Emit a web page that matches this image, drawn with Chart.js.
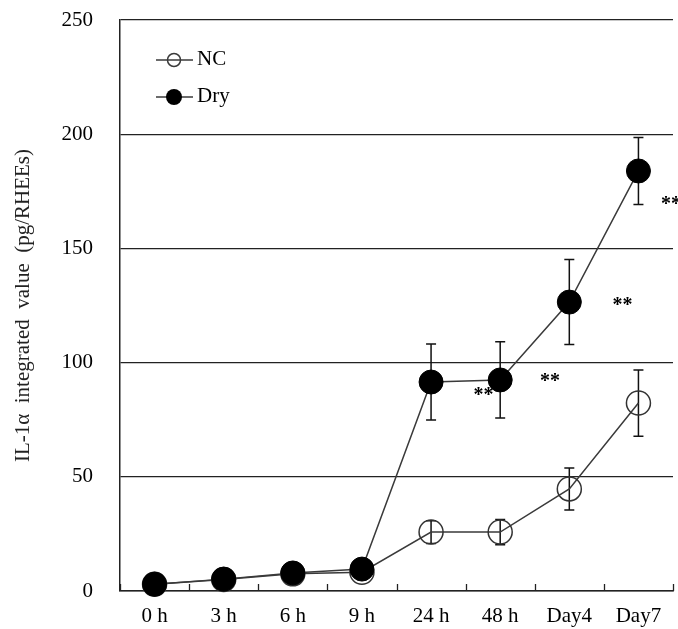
<!DOCTYPE html>
<html>
<head>
<meta charset="utf-8">
<script src="https://cdn.jsdelivr.net/npm/chart.js@4.4.0/dist/chart.umd.min.js"></script>
<style>
    html, body { margin: 0; padding: 0; background: #fff; }
    #wrap { width: 678px; height: 629px; }
</style>
</head>
<body>
<div id="wrap"><canvas id="myChart" width="678" height="629"></canvas></div>
<script>
const timeLabels = ['0 h', '3 h', '6 h', '9 h', '24 h', '48 h', 'Day4', 'Day7'];

const ncValues = [3.0, 5.0, 7.5, 8.2, 25.8, 25.8, 44.7, 82.3];
const ncErrors = [0.5, 0.5, 0.6, 0.8, 5.0, 5.5, 9.2, 14.5];

const dryValues = [3.0, 5.2, 7.9, 9.6, 91.5, 92.4, 126.5, 183.9];
const dryErrors = [0.5, 0.6, 0.8, 1.0, 16.6, 16.7, 18.6, 14.7];

// "**" marks: position along the category axis and height in pg/RHEEs
const starPositions = [4.76, 5.72, 6.77, 7.47];
const starValues = [86.7, 92.8, 126.1, 170.3];

const serif = 'Liberation Serif, Times New Roman, serif';
const lineGray = '#3a3a3a';

var ctx = document.getElementById('myChart').getContext('2d');

// vertical error bars with caps, drawn under the markers
const errorBars = {
    id: 'errorBars',
    beforeDatasetsDraw(chart) {
        const c = chart.ctx;
        const x = chart.scales.x;
        const y = chart.scales.y;
        c.save();
        c.strokeStyle = '#111';
        c.lineWidth = 1.5;
        chart.data.datasets.forEach(ds => {
            ds.data.forEach((v, i) => {
                const e = ds.errors[i];
                const px = x.getPixelForValue(i);
                const top = y.getPixelForValue(v + e);
                const bot = y.getPixelForValue(v - e);
                c.beginPath();
                c.moveTo(px, top);
                c.lineTo(px, bot);
                c.moveTo(px - 5, top);
                c.lineTo(px + 5, top);
                c.moveTo(px - 5, bot);
                c.lineTo(px + 5, bot);
                c.stroke();
            });
        });
        c.restore();
    }
};

// inward tick marks on the category axis, stars, legend
const extras = {
    id: 'extras',
    afterDraw(chart) {
        const c = chart.ctx;
        const x = chart.scales.x;
        const y = chart.scales.y;
        const area = chart.chartArea;
        c.save();

        c.strokeStyle = '#222';
        c.lineWidth = 1.3;
        for (let i = 0; i <= timeLabels.length; i++) {
            const px = Math.round(x.getPixelForValue(i - 0.5)) + 0.5;
            c.beginPath();
            c.moveTo(px, area.bottom);
            c.lineTo(px, area.bottom - 7);
            c.stroke();
        }

        c.fillStyle = '#000';
        c.font = 'bold 20px ' + serif;
        c.textAlign = 'center';
        c.textBaseline = 'alphabetic';
        for (let i = 0; i < starPositions.length; i++) {
            const px = x.getPixelForValue(starPositions[i]);
            const py = y.getPixelForValue(starValues[i]);
            c.fillText('**', px, py + 8);
        }

        // legend
        const rows = [
            { text: 'NC', filled: false, r: 6.5 },
            { text: 'Dry', filled: true, r: 8 }
        ];
        rows.forEach((row, k) => {
            const ly = area.top + 40 + k * 37;
            const lx = area.left + 36;
            c.strokeStyle = lineGray;
            c.lineWidth = 1.5;
            c.beginPath();
            c.moveTo(lx, ly);
            c.lineTo(lx + 37, ly);
            c.stroke();
            c.beginPath();
            c.arc(lx + 18, ly, row.r, 0, Math.PI * 2);
            if (row.filled) {
                c.fillStyle = '#000';
                c.fill();
            } else {
                c.stroke();
            }
            c.fillStyle = '#000';
            c.font = '21px ' + serif;
            c.textAlign = 'left';
            c.textBaseline = 'middle';
            c.fillText(row.text, lx + 41, ly - 1);
        });

        c.restore();
    }
};

const data = {
    labels: timeLabels,
    datasets: [
        {
            label: 'Dry',
            data: dryValues,
            errors: dryErrors,
            borderColor: lineGray,
            borderWidth: 1.5,
            pointRadius: 12,
            pointHoverRadius: 12,
            pointBackgroundColor: '#000',
            pointBorderColor: '#000',
            pointBorderWidth: 1,
            order: 0
        },
        {
            label: 'NC',
            data: ncValues,
            errors: ncErrors,
            borderColor: lineGray,
            borderWidth: 1.5,
            pointRadius: 12,
            pointHoverRadius: 12,
            pointBackgroundColor: 'rgba(0, 0, 0, 0)',
            pointBorderColor: '#333',
            pointBorderWidth: 1.5,
            order: 1
        }
    ]
};

const scales = {
    x: {
        offset: true,
        grid: { display: false },
        border: { display: true, color: '#222', width: 1.5 },
        ticks: {
            color: '#000',
            font: { family: serif, size: 21 },
            padding: 5,
            maxRotation: 0,
            autoSkip: false
        },
        afterFit: function (scale) {
            scale.height = 38;
            scale.paddingLeft = 0;
            scale.paddingRight = 0;
        }
    },
    y: {
        min: 0,
        max: 250,
        ticks: {
            stepSize: 50,
            color: '#000',
            font: { family: serif, size: 21 },
            padding: 27
        },
        grid: { color: '#222', lineWidth: 1.3, drawTicks: false },
        border: { display: true, color: '#222', width: 1.5 },
        title: {
            display: true,
            text: 'IL-1α  integrated  value  (pg/RHEEs)',
            color: '#222',
            font: { family: serif, size: 21 },
            padding: { top: 11, bottom: 0 }
        },
        afterFit: function (scale) {
            scale.width = 120;
            scale.paddingTop = 0;
            scale.paddingBottom = 0;
        }
    }
};

var myChart = new Chart(ctx, {
    type: 'line',
    data: data,
    options: {
        responsive: false,
        animation: false,
        clip: false,
        layout: { autoPadding: false, padding: { top: 20, right: 5, left: 0, bottom: 0 } },
        plugins: {
            legend: { display: false },
            tooltip: { enabled: false }
        },
        scales: scales
    },
    plugins: [errorBars, extras]
});
</script>
</body>
</html>
